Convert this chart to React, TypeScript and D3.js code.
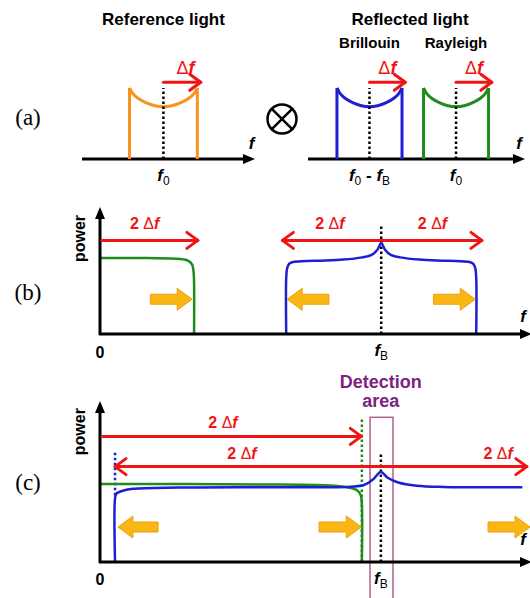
import React from 'react';
import * as d3 from 'd3';

const W = 530;
const H = 598;

// (a) spectrum of one swept band: offset from band centre (half width = 1) vs relative power
const uOffset = [-1, -0.9, -0.75, -0.5, -0.25, 0, 0.25, 0.5, 0.75, 0.9, 1];
const uPower = [1, 0.92, 0.855, 0.79, 0.75, 0.735, 0.75, 0.79, 0.855, 0.92, 1];
const refCentre = 0;
const brillouinCentre = 0;
const rayleighCentre = 2.66;

// (b) beat spectra, frequency in units of 2Δf
const fBb = 2.96;
const bGreen: [number, number][] = [
  [0, 0.613], [0.5, 0.612], [0.84, 0.605], [0.93, 0.59], [0.97, 0.56], [0.985, 0.5], [0.99, 0.42], [0.99, 0],
];
const bBlue: [number, number][] = [
  [-1, 0], [-1, 0.45], [-0.99, 0.53], [-0.97, 0.565], [-0.93, 0.58], [-0.7, 0.59], [-0.4, 0.6], [-0.2, 0.618],
  [-0.1, 0.638], [-0.04, 0.68], [0, 0.734], [0.04, 0.68], [0.1, 0.638], [0.2, 0.618], [0.4, 0.6], [0.7, 0.59],
  [0.93, 0.58], [0.97, 0.565], [0.99, 0.53], [1, 0.45], [1, 0],
];

// (c) beat spectra with larger sweep, frequency in units of 2Δf
const fBc = 1.064;
const cGreen: [number, number][] = [
  [0, 0.49], [0.6, 0.488], [0.9, 0.478], [0.95, 0.465], [0.975, 0.45], [0.988, 0.42], [0.992, 0.36], [0.992, 0],
];
const cBlue: [number, number][] = [
  [0.057, 0], [0.057, 0.4], [0.062, 0.43], [0.08, 0.445], [0.125, 0.46], [0.3, 0.468], [0.6, 0.47], [0.85, 0.47],
  [0.95, 0.474], [1.0, 0.484], [1.035, 0.52], [1.064, 0.566], [1.09, 0.53], [1.13, 0.5], [1.2, 0.48], [1.3, 0.472],
  [1.6, 0.47],
];

const ORANGE = '#f7931e';
const BLUE = '#1e1ed2';
const GREEN = '#1f8c1f';
const RED = '#f01414';
const GOLD = '#f9b614';
const PURPLE = '#7b2282';
const BOX = '#b0608f';
const SANS = 'Liberation Sans, Arial, sans-serif';
const SERIF = 'Liberation Serif, Times New Roman, serif';

const curve = d3.curveCatmullRom.alpha(0.5);

function HAxis({ x0, x1, y }: { x0: number; x1: number; y: number }) {
  return (
    <g>
      <line x1={x0} y1={y} x2={x1 - 8} y2={y} stroke="#000" strokeWidth={3} />
      <path d={`M${x1},${y}L${x1 - 12},${y - 5}L${x1 - 12},${y + 5}Z`} fill="#000" />
    </g>
  );
}

function VAxis({ x, y0, y1 }: { x: number; y0: number; y1: number }) {
  return (
    <g>
      <line x1={x} y1={y0} x2={x} y2={y1 + 8} stroke="#000" strokeWidth={3} />
      <path d={`M${x},${y1}L${x - 5},${y1 + 12}L${x + 5},${y1 + 12}Z`} fill="#000" />
    </g>
  );
}

function RedArrow({ x1, x2, y }: { x1: number; x2: number; y: number }) {
  const s = Math.sign(x2 - x1);
  return (
    <g stroke={RED} strokeWidth={3} fill="none" strokeLinecap="round" strokeLinejoin="round">
      <line x1={x1} y1={y} x2={x2} y2={y} />
      <path d={`M${x2 - s * 11},${y - 8}L${x2},${y}L${x2 - s * 11},${y + 8}`} />
    </g>
  );
}

function GoldArrow({ tip, tail, y }: { tip: number; tail: number; y: number }) {
  const s = Math.sign(tip - tail);
  const neck = tip - s * 15;
  const d = `M${tail},${y - 5}L${neck},${y - 5}L${neck},${y - 11}L${tip},${y}L${neck},${y + 11}L${neck},${y + 5}L${tail},${y + 5}Z`;
  return <path d={d} fill={GOLD} stroke="#eda20a" strokeWidth={1} strokeLinejoin="round" />;
}

function Dotted({ x, y0, y1, color = '#000' }: { x: number; y0: number; y1: number; color?: string }) {
  return <line x1={x} y1={y0} x2={x} y2={y1} stroke={color} strokeWidth={2.5} strokeDasharray="2.5 2.5" />;
}

function DeltaF({ x, y, two = false, size = 16 }: { x: number; y: number; two?: boolean; size?: number }) {
  return (
    <text x={x} y={y} textAnchor="middle" fill={RED} fontFamily={SANS} fontSize={size} fontWeight="bold">
      {two ? <tspan>2 </tspan> : null}
      <tspan fontWeight="normal">Δ</tspan>
      <tspan fontStyle="italic">f</tspan>
    </text>
  );
}

function Band({ x, y, centre, color }: { x: d3.ScaleLinear<number, number>; y: d3.ScaleLinear<number, number>; centre: number; color: string }) {
  const pts = uOffset.map((o, i) => [centre + o, uPower[i]] as [number, number]);
  const line = d3.line<[number, number]>().x(d => x(d[0])).y(d => y(d[1])).curve(curve);
  return (
    <g stroke={color} strokeWidth={3} fill="none">
      <line x1={x(centre - 1)} y1={y(0)} x2={x(centre - 1)} y2={y(1)} />
      <line x1={x(centre + 1)} y1={y(0)} x2={x(centre + 1)} y2={y(1)} />
      <path d={line(pts) || ''} />
    </g>
  );
}

export default function App() {
  // (a) scales
  const xA1 = d3.scaleLinear().domain([-2.4, 2.7]).range([82, 255]);
  const xA2 = d3.scaleLinear().domain([-1.89, 4.78]).range([308, 525]);
  const yA = d3.scaleLinear().domain([0, 1]).range([159, 88]);
  // (b)
  const xB = d3.scaleLinear().domain([0, 4.526]).range([100, 530]);
  const yB = d3.scaleLinear().domain([0, 1]).range([334, 210]);
  // (c)
  const xC = d3.scaleLinear().domain([0, 1.629]).range([100, 530]);
  const yC = d3.scaleLinear().domain([0, 1]).range([562, 403]);

  const lineB = d3.line<[number, number]>().x(d => xB(d[0])).y(d => yB(d[1])).curve(curve);
  const lineC = d3.line<[number, number]>().x(d => xC(d[0])).y(d => yC(d[1])).curve(curve);
  const bBlueAbs = bBlue.map(d => [fBb + d[0], d[1]] as [number, number]);

  const fLabel = (x: number, y: number, sub: string) => (
    <text x={x} y={y} textAnchor="middle" fontFamily={SANS} fontSize={17} fontWeight="bold">
      <tspan fontStyle="italic">f</tspan>
      <tspan fontSize={12} fontWeight="normal" dy={4}>{sub}</tspan>
    </text>
  );

  return (
    <svg width={W} height={H} style={{ position: 'absolute', left: 0, top: 0, background: '#fff' }}>
      {/* ---------- (a) ---------- */}
      <text x={28} y={125} textAnchor="middle" fontFamily={SERIF} fontSize={23}>(a)</text>
      <text x={xA1(0)} y={25} textAnchor="middle" fontFamily={SANS} fontSize={17} fontWeight="bold">Reference light</text>
      <HAxis x0={xA1(-2.4)} x1={xA1(2.7)} y={yA(0)} />
      <Band x={xA1} y={yA} centre={refCentre} color={ORANGE} />
      <Dotted x={xA1(refCentre)} y0={yA(0)} y1={yA(1)} />
      <RedArrow x1={xA1(refCentre)} x2={xA1(refCentre + 1.1)} y={yA(1.08)} />
      <DeltaF x={xA1(refCentre + 0.65)} y={yA(1.2)} size={18} />
      {fLabel(xA1(refCentre), 181, '0')}
      <text x={xA1(2.6)} y={149} textAnchor="middle" fontFamily={SANS} fontSize={17} fontWeight="bold" fontStyle="italic">f</text>

      <g stroke="#000" strokeWidth={2.5} fill="none">
        <circle cx={282} cy={119} r={14.5} />
        <line x1={282 - 10.2} y1={119 - 10.2} x2={282 + 10.2} y2={119 + 10.2} />
        <line x1={282 - 10.2} y1={119 + 10.2} x2={282 + 10.2} y2={119 - 10.2} />
      </g>

      <text x={410} y={25} textAnchor="middle" fontFamily={SANS} fontSize={17} fontWeight="bold">Reflected light</text>
      <text x={xA2(brillouinCentre)} y={48} textAnchor="middle" fontFamily={SANS} fontSize={15} fontWeight="bold">Brillouin</text>
      <text x={xA2(rayleighCentre)} y={48} textAnchor="middle" fontFamily={SANS} fontSize={15} fontWeight="bold">Rayleigh</text>
      <HAxis x0={xA2(-1.89)} x1={xA2(4.78)} y={yA(0)} />
      <Band x={xA2} y={yA} centre={brillouinCentre} color={BLUE} />
      <Band x={xA2} y={yA} centre={rayleighCentre} color={GREEN} />
      <Dotted x={xA2(brillouinCentre)} y0={yA(0)} y1={yA(1)} />
      <Dotted x={xA2(rayleighCentre)} y0={yA(0)} y1={yA(1)} />
      <RedArrow x1={xA2(brillouinCentre)} x2={xA2(brillouinCentre + 1.1)} y={yA(1.08)} />
      <RedArrow x1={xA2(rayleighCentre)} x2={xA2(rayleighCentre + 1.1)} y={yA(1.08)} />
      <DeltaF x={xA2(brillouinCentre + 0.55)} y={yA(1.2)} size={18} />
      <DeltaF x={xA2(rayleighCentre + 0.55)} y={yA(1.2)} size={18} />
      <text x={xA2(brillouinCentre)} y={181} textAnchor="middle" fontFamily={SANS} fontSize={17} fontWeight="bold">
        <tspan fontStyle="italic">f</tspan>
        <tspan fontSize={12} fontWeight="normal" dy={4}>0</tspan>
        <tspan dy={-4}> - </tspan>
        <tspan fontStyle="italic">f</tspan>
        <tspan fontSize={12} fontWeight="normal" dy={4}>B</tspan>
      </text>
      {fLabel(xA2(rayleighCentre), 181, '0')}
      <text x={xA2(4.6)} y={149} textAnchor="middle" fontFamily={SANS} fontSize={17} fontWeight="bold" fontStyle="italic">f</text>

      {/* ---------- (b) ---------- */}
      <text x={28} y={300} textAnchor="middle" fontFamily={SERIF} fontSize={23}>(b)</text>
      <text transform={`translate(85,${yB(0.77)}) rotate(-90)`} textAnchor="middle" fontFamily={SANS} fontSize={16} fontWeight="bold">power</text>
      <text x={xB(0)} y={358} textAnchor="middle" fontFamily={SANS} fontSize={16} fontWeight="bold">0</text>
      <text x={526} y={322} fontFamily={SANS} fontSize={17} fontWeight="bold" fontStyle="italic" textAnchor="end">f</text>
      <Dotted x={xB(fBb)} y0={yB(0)} y1={yB(0.88)} />
      <path d={lineB(bGreen) || ''} stroke={GREEN} strokeWidth={2.5} fill="none" />
      <path d={lineB(bBlueAbs) || ''} stroke={BLUE} strokeWidth={2.5} fill="none" />
      <HAxis x0={xB(0) - 1} x1={532} y={yB(0)} />
      <VAxis x={xB(0)} y0={yB(0) + 1} y1={207} />
      <RedArrow x1={xB(0.02)} x2={xB(1.03)} y={yB(0.755)} />
      <RedArrow x1={xB(fBb)} x2={xB(fBb - 1.04)} y={yB(0.755)} />
      <RedArrow x1={xB(fBb)} x2={xB(fBb + 1.06)} y={yB(0.755)} />
      <DeltaF x={xB(0.47)} y={yB(0.85)} two />
      <DeltaF x={xB(fBb - 0.54)} y={yB(0.85)} two />
      <DeltaF x={xB(fBb + 0.54)} y={yB(0.85)} two />
      <GoldArrow tip={xB(0.97)} tail={xB(0.53)} y={yB(0.28)} />
      <GoldArrow tip={xB(fBb - 0.99)} tail={xB(fBb - 0.55)} y={yB(0.28)} />
      <GoldArrow tip={xB(fBb + 0.99)} tail={xB(fBb + 0.55)} y={yB(0.28)} />
      {fLabel(xB(fBb), 356, 'B')}

      {/* ---------- (c) ---------- */}
      <text x={28} y={490} textAnchor="middle" fontFamily={SERIF} fontSize={23}>(c)</text>
      <text transform={`translate(85,${yC(0.82)}) rotate(-90)`} textAnchor="middle" fontFamily={SANS} fontSize={16} fontWeight="bold">power</text>
      <text x={xC(0)} y={585} textAnchor="middle" fontFamily={SANS} fontSize={16} fontWeight="bold">0</text>
      <text x={526} y={545} fontFamily={SANS} fontSize={17} fontWeight="bold" fontStyle="italic" textAnchor="end">f</text>
      <rect x={xC(1.023)} y={yC(0.91)} width={xC(1.11) - xC(1.023)} height={yC(-0.3) - yC(0.91)} fill="none" stroke={BOX} strokeWidth={1.5} />
      <text x={xC(fBc)} y={yC(1.094)} textAnchor="middle" fontFamily={SANS} fontSize={18} fontWeight="bold" fill={PURPLE}>Detection</text>
      <text x={xC(fBc)} y={yC(0.975)} textAnchor="middle" fontFamily={SANS} fontSize={18} fontWeight="bold" fill={PURPLE}>area</text>
      <Dotted x={xC(fBc)} y0={yC(0)} y1={yC(0.685)} />
      <Dotted x={xC(0.992)} y0={yC(0)} y1={yC(0.91)} color={GREEN} />
      <Dotted x={xC(0.057)} y0={yC(0.42)} y1={yC(0.69)} color={BLUE} />
      <path d={lineC(cGreen) || ''} stroke={GREEN} strokeWidth={2.5} fill="none" />
      <path d={lineC(cBlue) || ''} stroke={BLUE} strokeWidth={2.5} fill="none" />
      <HAxis x0={xC(0) - 1} x1={532} y={yC(0)} />
      <VAxis x={xC(0)} y0={yC(0) + 1} y1={401} />
      <RedArrow x1={xC(0.008)} x2={xC(0.99)} y={yC(0.79)} />
      <RedArrow x1={xC(fBc)} x2={xC(fBc - 1.007)} y={yC(0.6)} />
      <RedArrow x1={xC(fBc)} x2={xC(1.617)} y={yC(0.6)} />
      <DeltaF x={xC(0.466)} y={yC(0.84)} two />
      <DeltaF x={xC(0.538)} y={yC(0.645)} two />
      <DeltaF x={xC(1.508)} y={yC(0.645)} two />
      <GoldArrow tip={xC(0.068)} tail={xC(0.22)} y={yC(0.22)} />
      <GoldArrow tip={xC(0.99)} tail={xC(0.83)} y={yC(0.22)} />
      <GoldArrow tip={xC(1.629)} tail={xC(1.47)} y={yC(0.22)} />
      {fLabel(xC(fBc), 584, 'B')}
    </svg>
  );
}
